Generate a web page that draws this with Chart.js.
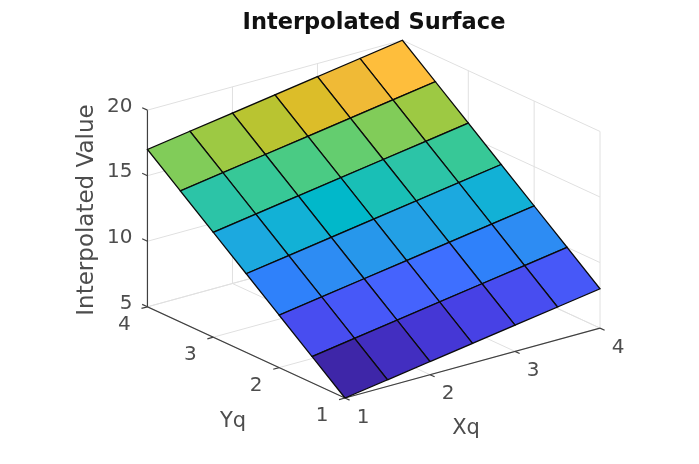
<!DOCTYPE html>
<html>
<head>
<meta charset="utf-8">
<style>
  html, body { margin: 0; padding: 0; background: #fff; }
  #wrap { width: 699px; height: 464px; }
</style>
<script src="https://cdn.jsdelivr.net/npm/chart.js@4/dist/chart.umd.min.js"></script>
</head>
<body>
<div id="wrap"><canvas id="surface"></canvas></div>
<script>
'use strict';

// values
const xq = [1, 1.5, 2, 2.5, 3, 3.5, 4];
const yq = [1, 1.5, 2, 2.5, 3, 3.5, 4];
const zqY1 = [5, 5.5, 6, 6.5, 7, 7.5, 8];
const zqY2 = [7, 7.5, 8, 8.5, 9, 9.5, 10];
const zqY3 = [9, 9.5, 10, 10.5, 11, 11.5, 12];
const zqY4 = [11, 11.5, 12, 12.5, 13, 13.5, 14];
const zqY5 = [13, 13.5, 14, 14.5, 15, 15.5, 16];
const zqY6 = [15, 15.5, 16, 16.5, 17, 17.5, 18];
const zqY7 = [17, 17.5, 18, 18.5, 19, 19.5, 20];
const zqRows = [zqY1, zqY2, zqY3, zqY4, zqY5, zqY6, zqY7];

const xTicks = [1, 2, 3, 4];
const yTicks = [1, 2, 3, 4];
const zTicks = [5, 10, 15, 20];
const zMin = 5;
const zMax = 20;

// parula, 64 levels
const parula = [
  [.2422,.1504,.6603],[.2504,.1650,.7076],[.2578,.1818,.7511],[.2647,.1978,.7952],
  [.2706,.2147,.8364],[.2751,.2342,.8710],[.2783,.2559,.8991],[.2803,.2782,.9221],
  [.2813,.3006,.9414],[.2810,.3228,.9579],[.2795,.3447,.9717],[.2760,.3667,.9829],
  [.2699,.3892,.9906],[.2602,.4123,.9952],[.2440,.4358,.9988],[.2206,.4603,.9973],
  [.1963,.4847,.9892],[.1834,.5074,.9798],[.1786,.5289,.9682],[.1764,.5499,.9520],
  [.1687,.5703,.9359],[.1540,.5902,.9218],[.1460,.6091,.9079],[.1380,.6276,.8973],
  [.1248,.6459,.8883],[.1113,.6635,.8763],[.0952,.6798,.8598],[.0689,.6948,.8394],
  [.0297,.7082,.8163],[.0036,.7203,.7917],[.0067,.7312,.7660],[.0433,.7411,.7394],
  [.0964,.7500,.7120],[.1408,.7584,.6842],[.1717,.7670,.6554],[.1938,.7758,.6251],
  [.2161,.7843,.5923],[.2470,.7918,.5567],[.2906,.7973,.5188],[.3406,.8008,.4789],
  [.3909,.8029,.4354],[.4456,.8024,.3909],[.5044,.7993,.3480],[.5616,.7942,.3045],
  [.6174,.7876,.2612],[.6720,.7793,.2227],[.7242,.7698,.1910],[.7738,.7598,.1646],
  [.8203,.7498,.1535],[.8634,.7406,.1596],[.9035,.7330,.1774],[.9393,.7288,.2100],
  [.9728,.7298,.2394],[.9956,.7434,.2371],[.9970,.7659,.2199],[.9952,.7893,.2028],
  [.9892,.8136,.1885],[.9786,.8386,.1766],[.9676,.8639,.1643],[.9610,.8890,.1537],
  [.9597,.9135,.1423],[.9628,.9373,.1265],[.9691,.9606,.1064],[.9769,.9839,.0805]
];

function cellColor(z) {
  let idx = Math.floor((z - zMin) / (zMax - zMin) * 64);
  idx = Math.max(0, Math.min(63, idx));
  const c = parula[idx];
  return `rgb(${Math.round(c[0] * 255)},${Math.round(c[1] * 255)},${Math.round(c[2] * 255)})`;
}

// orthographic camera for the 3D box, result is in the hidden scales' units
function project(x, y, z) {
  return {
    x: 345 + (x - 1) * 85 - (y - 1) * 65.85,
    y: 398 - (x - 1) * 23.3 - (y - 1) * 30.4 - (z - zMin) * 13.11
  };
}

function path3d(pts) {
  return pts.map(p => project(p[0], p[1], p[2]));
}

function lineSet(pts, color, width, order) {
  return {
    type: 'scatter',
    data: path3d(pts),
    showLine: true,
    fill: false,
    borderColor: color,
    borderWidth: width,
    pointRadius: 0,
    tension: 0,
    order: order,
    clip: false
  };
}

const gridColor = '#e0e0e0';
const axisColor = '#404040';
const datasets = [];

// grid: floor and the two back walls
yTicks.forEach(y => {
  datasets.push(lineSet([[1, y, 5], [4, y, 5], [4, y, 20]], gridColor, 1, 20));
});
xTicks.forEach(x => {
  datasets.push(lineSet([[x, 1, 5], [x, 4, 5], [x, 4, 20]], gridColor, 1, 20));
});
zTicks.forEach(z => {
  datasets.push(lineSet([[1, 4, z], [4, 4, z], [4, 1, z]], gridColor, 1, 20));
});

// axis lines and tick marks
datasets.push(lineSet([[1, 1, 5], [4, 1, 5]], axisColor, 1.2, 10));
datasets.push(lineSet([[1, 1, 5], [1, 4, 5], [1, 4, 20]], axisColor, 1.2, 10));
xTicks.forEach(x => {
  datasets.push(lineSet([[x, 1, 5], [x, 0.93, 5]], axisColor, 1.2, 10));
});
yTicks.forEach(y => {
  datasets.push(lineSet([[1, y, 5], [0.93, y, 5]], axisColor, 1.2, 10));
});
zTicks.forEach(z => {
  datasets.push(lineSet([[1, 4, z], [1, 4.08, z]], axisColor, 1.2, 10));
});

// surface cells, coloured from the first corner like flat shading
for (let j = 0; j < yq.length - 1; j++) {
  for (let i = 0; i < xq.length - 1; i++) {
    const set = lineSet([
      [xq[i], yq[j], zqRows[j][i]],
      [xq[i + 1], yq[j], zqRows[j][i + 1]],
      [xq[i + 1], yq[j + 1], zqRows[j + 1][i + 1]],
      [xq[i], yq[j + 1], zqRows[j + 1][i]],
      [xq[i], yq[j], zqRows[j][i]]
    ], '#0a0a0a', 1.3, 1);
    set.fill = 'shape';
    set.backgroundColor = cellColor(zqRows[j][i]);
    datasets.push(set);
  }
}

const textFont = '"DejaVu Sans", sans-serif';
const textColor = '#4d4d4d';

const axisText = {
  id: 'axisText',
  afterDatasetsDraw(chart) {
    const ctx = chart.ctx;
    const sx = chart.scales.x;
    const sy = chart.scales.y;
    const put = (p, dx, dy, str) => {
      ctx.fillText(str, sx.getPixelForValue(p.x) + dx, sy.getPixelForValue(p.y) + dy);
    };
    ctx.save();
    ctx.fillStyle = textColor;
    ctx.font = '20px ' + textFont;
    ctx.textBaseline = 'middle';
    ctx.textAlign = 'right';
    zTicks.forEach(z => put(project(1, 4, z), -15, -3.5, String(z)));
    ctx.textAlign = 'center';
    yTicks.forEach(y => put(project(1, y, 5), -23, 18, String(y)));
    xTicks.forEach(x => put(project(x, 1, 5), 18, 19.5, String(x)));
    ctx.font = '21px ' + textFont;
    ctx.fillText('Xq', sx.getPixelForValue(466), sy.getPixelForValue(429));
    ctx.fillText('Yq', sx.getPixelForValue(233), sy.getPixelForValue(422));
    ctx.font = '23px ' + textFont;
    ctx.translate(sx.getPixelForValue(87), sy.getPixelForValue(210));
    ctx.rotate(-Math.PI / 2);
    ctx.fillText('Interpolated Value', 0, 0);
    ctx.restore();
  }
};

new Chart(document.getElementById('surface'), {
  type: 'scatter',
  data: { datasets: datasets },
  options: {
    responsive: true,
    maintainAspectRatio: false,
    animation: false,
    layout: { padding: { left: 49, right: 0, top: 0, bottom: 0 } },
    plugins: {
      legend: { display: false },
      tooltip: { enabled: false },
      title: {
        display: true,
        text: 'Interpolated Surface',
        color: '#111',
        font: { family: textFont, size: 22.5, weight: 'bold', lineHeight: 1.2 },
        padding: { top: 10, bottom: 1 }
      }
    },
    scales: {
      x: { type: 'linear', display: false, min: 49, max: 699 },
      y: { type: 'linear', display: false, min: 38, max: 464, reverse: true }
    }
  },
  plugins: [axisText]
});
</script>
</body>
</html>
